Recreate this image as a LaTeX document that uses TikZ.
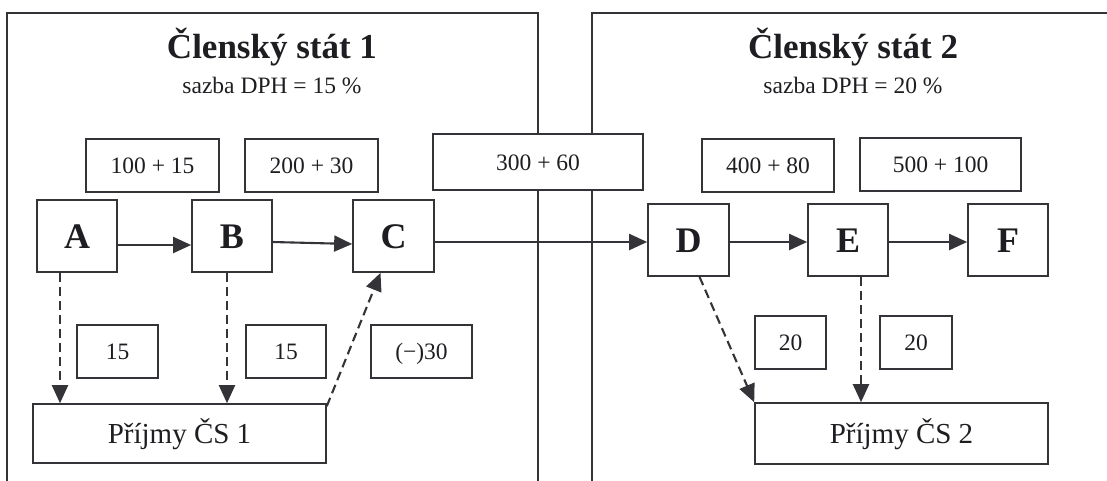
\documentclass[tikz,border=0pt]{standalone}
\usepackage{fontspec}
\setmainfont{Liberation Serif}
\usetikzlibrary{arrows.meta,calc,positioning}
\definecolor{linegray}{RGB}{52,52,56}
\definecolor{inkgray}{RGB}{30,30,34}
\newcommand{\firmfont}{\bfseries\fontsize{36}{40}\selectfont}
\newcommand{\amountfont}{\fontsize{23.5}{28}\selectfont}
\newcommand{\budgetfont}{\fontsize{29}{34}\selectfont}

\begin{document}
\begin{tikzpicture}[x=1pt, y=-1pt,
  frame/.style={draw=linegray, line width=2.4pt},
  title/.style={anchor=base, text=inkgray, font=\bfseries\fontsize{35}{40}\selectfont},
  subtitle/.style={anchor=base, text=inkgray, font=\amountfont},
  firm/.style={draw=linegray, line width=1.7pt, fill=white, minimum width=80pt,
    minimum height=72pt, inner sep=0pt, text height=24pt, text depth=0pt,
    text=inkgray, font=\firmfont},
  amount/.style={draw=linegray, line width=1.6pt, fill=white, minimum height=53pt,
    inner sep=0pt, text height=16pt, text depth=0pt, text=inkgray, font=\amountfont},
  budget/.style={amount, minimum width=293pt, text height=19pt, font=\budgetfont},
  flow/.style={draw=linegray, line width=2.1pt, -{Triangle[length=18pt,width=16pt]}},
  vat/.style={flow, dash pattern=on 9pt off 5pt}]
\useasboundingbox (0,0) rectangle (1107,480);
% the two member states
\draw [frame] (7,482) -- (7,13) -- (538,13) -- (538,482);
\draw [frame] (592,482) -- (592,13) -- (1112,13);
\node [title] (T1) at (272,58) {Členský stát 1};
\node [subtitle] (S1) at (272,93) {sazba DPH = 15 \%};
\node [title] (T2) at (853,58) {Členský stát 2};
\node [subtitle] (S2) at (853,93) {sazba DPH = 20 \%};
% firms in the chain
\node [firm] (A) at (77,236) {A};
\node [firm] (B) at (232,236) {B};
\node [firm, minimum width=81pt] (C) at (393.5,236) {C};
\node [firm, minimum width=81pt] (D) at (688.5,240) {D};
\node [firm] (E) at (848,240) {E};
\node [firm] (F) at (1008,240) {F};
% prices plus tax
\node [amount, minimum width=133pt] (p1) at (152.5,165.5) {100 + 15};
\node [amount, minimum width=133pt] (p2) at (311.5,165.5) {200 + 30};
\node [amount, minimum width=210pt, minimum height=56pt] (p3) at (538,162) {300 + 60};
\node [amount, minimum width=132pt] (p4) at (768,165.5) {400 + 80};
\node [amount, minimum width=161pt] (p5) at (940.5,164.5) {500 + 100};
% tax paid
\node [amount, minimum width=81pt] (v1) at (117.5,351.5) {15};
\node [amount, minimum width=80pt] (v2) at (286,351.5) {15};
\node [amount, minimum width=101pt] (v3) at (421.5,351.5) {(−)30};
\node [amount, minimum width=71pt] (v4) at (790.5,342.5) {20};
\node [amount, minimum width=72pt] (v5) at (916,342.5) {20};
% budgets
\node [budget, minimum height=59pt] (P1) at (179.5,433.5) {Příjmy ČS 1};
\node [budget, minimum height=61pt] (P2) at (901.5,433.5) {Příjmy ČS 2};
% supplies
\draw [flow] ([yshift=-9pt]A.east) -- ([yshift=-9pt]B.west);
\draw [flow] ([yshift=-6pt]B.east) -- ([yshift=-8pt]C.west);
\draw [flow] ([yshift=-6pt]C.east) -- ([yshift=-2pt]D.west);
\draw [flow] ([yshift=-2pt]D.east) -- ([yshift=-2pt]E.west);
\draw [flow] ([yshift=-2pt]E.east) -- ([yshift=-2pt]F.west);
% tax flows
\draw [vat] ([xshift=-17pt]A.south) -- ([xshift=-17pt]A.south |- P1.north);
\draw [vat] ([xshift=-5pt]B.south) -- ([xshift=-5pt]B.south |- P1.north);
\draw [vat] ([yshift=-3pt]P1.north east) -- ([xshift=-13pt]C.south);
\draw [vat] ([xshift=11pt]D.south) -- (P2.north west);
\draw [vat] ([xshift=13pt]E.south) -- ([xshift=13pt]E.south |- P2.north);
\end{tikzpicture}
\end{document}
